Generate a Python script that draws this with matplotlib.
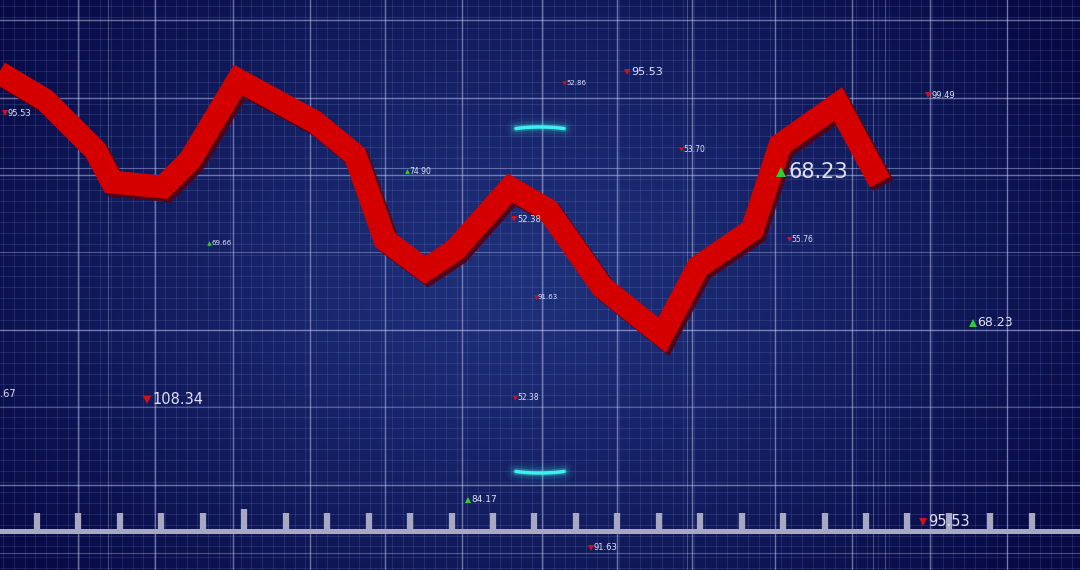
"""
Stylised stock ticker chart: a thick red price line over a glowing blue
blueprint grid, with floating quote labels and a ruler strip at the bottom.
"""
import numpy as np
import matplotlib
matplotlib.use("Agg")
from matplotlib import pyplot as plt
from matplotlib import patheffects as pe

W, H = 1080, 570

# red price line (x position, price level)
line_x = [-5, 45, 95, 112, 163, 190, 238, 315, 355, 385, 425, 455, 510,
          548, 602, 662, 698, 752, 780, 838, 860, 880]
line_y = [500, 470, 420, 388, 383, 410, 490, 448, 415, 330, 300, 320, 382,
          360, 283, 235, 303, 340, 425, 466, 425, 388]

# floating quote labels: text, x, y, size, direction (1 up / -1 down)
quote_text = ["95.53", "52.86", "95.53", "99.49", "53.70", "74.90", "68.23",
              "69.66", "52.38", "55.76", "91.63", "68.23", "98.67", "108.34",
              "52.38", "84.17", "95.53", "91.63"]
quote_x = [8, 566, 631, 931, 683, 409, 788, 211, 517, 791, 538, 977, -12,
           152, 517, 471, 928, 594]
quote_y = [457, 487, 498, 475, 421, 399, 398, 327, 351, 331, 273, 247, 176,
           170, 172, 70, 48, 22]
quote_size = [6, 5, 8, 6, 5.5, 5.5, 15, 5, 6, 5.5, 5, 9, 7, 10.5, 5.5, 6.5,
              10.5, 6]
quote_dir = [-1, -1, -1, -1, -1, 1, 1, 1, -1, -1, -1, 1, -1, -1, -1, 1, -1, -1]

# ruler ticks along the bottom strip
tick_x = 37 + 41.45 * np.arange(25)
tick_tall = 5

fig = plt.figure(figsize=(W / 100, H / 100), dpi=100)
ax = fig.add_axes([0, 0, 1, 1])
ax.set_xlim(0, W)
ax.set_ylim(0, H)
ax.axis("off")

# background: radial glow in the middle, dark navy at the edges
gx, gy = np.meshgrid(np.linspace(0, W, 270), np.linspace(0, H, 143))
r = np.sqrt(((gx - 520) / 640) ** 2 + ((gy - 290) / 430) ** 2)
t = np.clip(r, 0, 1) ** 1.2
c_in = np.array([0.12, 0.19, 0.48])
c_out = np.array([0.03, 0.04, 0.27])
bg = c_in[None, None, :] * (1 - t[..., None]) + c_out[None, None, :] * t[..., None]
ax.imshow(bg, extent=[0, W, 0, H], origin="lower", aspect="auto",
          interpolation="bicubic", zorder=0)

# fine grid
for x in np.arange(3, W, 10.8):
    ax.axvline(x, color="#8a98e0", lw=0.6, alpha=0.2, zorder=1)
for y in np.arange(2, H, 10.8):
    ax.axhline(y, color="#8a98e0", lw=0.6, alpha=0.2, zorder=1)

# major grid
for x in [78, 155, 233, 310, 385, 462, 542, 617, 692, 775, 852, 930, 1007]:
    ax.axvline(x, color="#c8d0f5", lw=1.0, alpha=0.5, zorder=1)
for x in [108, 687, 873, 885]:
    ax.axvline(x, color="#c8d0f5", lw=0.8, alpha=0.3, zorder=1)
for y in [20, 98, 175, 330, 485]:
    ax.axhline(H - y, color="#c8d0f5", lw=1.0, alpha=0.5, zorder=1)
for y in [168, 252, 407, 553]:
    ax.axhline(H - y, color="#c8d0f5", lw=0.8, alpha=0.35, zorder=1)

# glowing cyan arcs
for cx, cy, bend in [(540, H - 127, 1.5), (540, H - 473, -1.5)]:
    ax_x = np.linspace(cx - 24, cx + 24, 40)
    ax_y = cy + bend * (1 - ((ax_x - cx) / 24) ** 2) - bend
    for lw, a in [(14, 0.05), (9, 0.1), (5, 0.25), (2.5, 1.0)]:
        ax.plot(ax_x, ax_y, color="#3ff0ee", lw=lw, alpha=a,
                solid_capstyle="round", zorder=2)

# ruler strip
ax.axhline(H - 530.5, color="#a7a9c4", lw=3.6, zorder=3)
for i, x in enumerate(tick_x):
    top = 22 if i == tick_tall else 18
    ax.plot([x, x], [H - 531, H - 531 + top], color="#a7a9c4", lw=4.5,
            solid_capstyle="butt", zorder=3)

# red price line with a darker drop shadow
ax.plot(line_x, line_y, color="#d40000", lw=16.5, solid_joinstyle="miter",
        solid_capstyle="butt", zorder=5,
        path_effects=[pe.SimpleLineShadow(offset=(2.5, -2.5),
                                          shadow_color="#5a0010", alpha=0.9),
                      pe.Normal()])

# quote labels
for txt, x, y, s, d in zip(quote_text, quote_x, quote_y, quote_size,
                           quote_dir):
    col = "#2ed12e" if d > 0 else "#d0101e"
    mk = "^" if d > 0 else "v"
    ax.plot(x - 0.45 * s, y, marker=mk, color=col, ms=0.45 * s + 1,
            mew=0, zorder=6)
    ax.text(x, y, txt, color="#dfe2f5", fontsize=s, ha="left", va="center",
            family="DejaVu Sans", zorder=6)

fig.savefig("out.png", dpi=100)
